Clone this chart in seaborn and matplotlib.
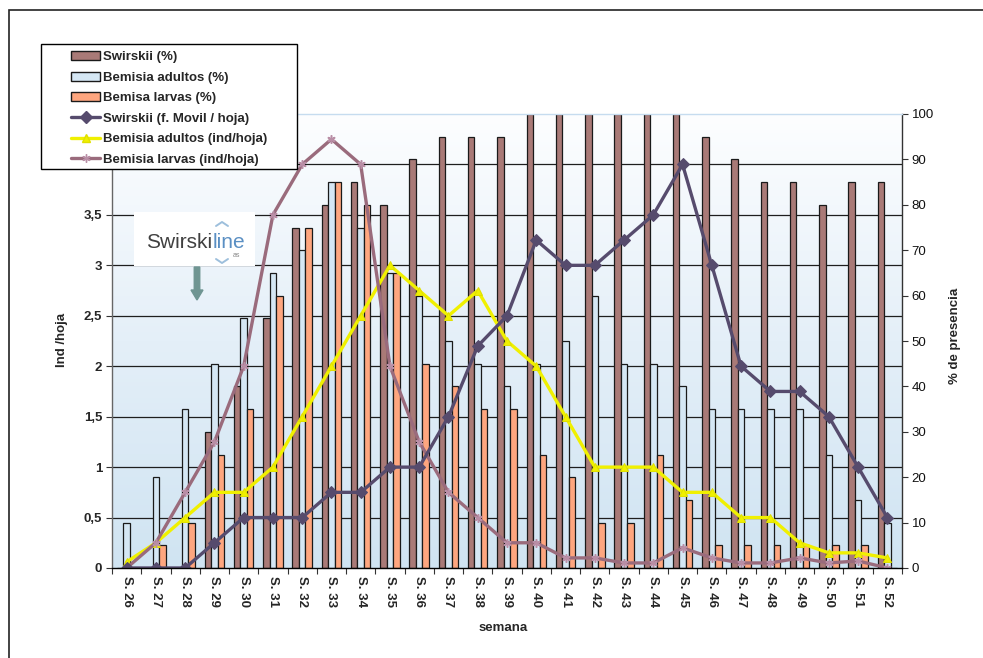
import numpy as np
import pandas as pd
import matplotlib
matplotlib.use("Agg")
import matplotlib.pyplot as plt
from matplotlib.patches import Rectangle, Patch, FancyArrow
from matplotlib.lines import Line2D
from matplotlib.text import Annotation
from matplotlib.colors import LinearSegmentedColormap
import seaborn as sns

# ---- data -----------------------------------------------------------------
semanas = ["S. 26", "S. 27", "S. 28", "S. 29", "S. 30", "S. 31", "S. 32",
           "S. 33", "S. 34", "S. 35", "S. 36", "S. 37", "S. 38", "S. 39",
           "S. 40", "S. 41", "S. 42", "S. 43", "S. 44", "S. 45", "S. 46",
           "S. 47", "S. 48", "S. 49", "S. 50", "S. 51", "S. 52"]

# % de presencia (bars, right axis)
swirskii_pct = [0, 0, 0, 30, 40, 55, 75, 80, 85, 80, 90, 95, 95, 95, 100, 100,
                100, 100, 100, 100, 95, 90, 85, 85, 80, 85, 85]
adultos_pct = [10, 20, 35, 45, 55, 65, 70, 85, 75, 65, 60, 50, 45, 40, 45, 50,
               60, 45, 45, 40, 35, 35, 35, 35, 25, 15, 10]
larvas_pct = [0, 5, 10, 25, 35, 60, 75, 85, 80, 65, 45, 40, 35, 35, 25, 20,
              10, 10, 25, 15, 5, 5, 5, 5, 5, 5, 0]

# individuos por hoja (lines, left axis)
swirskii_ind = [0, 0, 0, 0.25, 0.5, 0.5, 0.5, 0.75, 0.75, 1, 1, 1.5, 2.2, 2.5,
                3.25, 3, 3, 3.25, 3.5, 4, 3, 2, 1.75, 1.75, 1.5, 1, 0.5]
adultos_ind = [0.06, 0.25, 0.5, 0.75, 0.75, 1, 1.5, 2, 2.5, 3, 2.75, 2.5, 2.75,
               2.25, 2, 1.5, 1, 1, 1, 0.75, 0.75, 0.5, 0.5, 0.25, 0.15, 0.15, 0.1]
larvas_ind = [0, 0.25, 0.75, 1.25, 2, 3.5, 4, 4.25, 4, 2, 1.25, 0.75, 0.5, 0.25,
              0.25, 0.1, 0.1, 0.05, 0.05, 0.2, 0.1, 0.05, 0.05, 0.1, 0.05, 0.07, 0]

bar_series = ["Swirskii (%)", "Bemisia adultos (%)", "Bemisa larvas (%)"]
line_series = ["Swirskii (f. Movil / hoja)", "Bemisia adultos (ind/hoja)",
               "Bemisia larvas (ind/hoja)"]

ind_ticks = [0, 0.5, 1, 1.5, 2, 2.5, 3, 3.5, 4, 4.5]
ind_tick_labels = ["0", "0,5", "1", "1,5", "2", "2,5", "3", "3,5", "4", "4,5"]
pct_ticks = [0, 10, 20, 30, 40, 50, 60, 70, 80, 90, 100]

# ---- style ----------------------------------------------------------------
bar_colors = ["#a97a77", "#d5e7f4", "#fea67f"]
sw_line, ad_line, la_line = "#564b6d", "#f0f000", "#9a6b7c"
FS = 9.5

sns.set_style("ticks")
plt.rcParams["font.family"] = ["Liberation Sans", "DejaVu Sans"]

W, H = 983, 658
fig = plt.figure(figsize=(W / 100, H / 100), dpi=100)
fig.patch.set_facecolor("white")


def px(x, y):
    """pixel position (from top-left) -> inches for dpi_scale_trans"""
    return x / 100, (H - y) / 100


ax = fig.add_axes([112 / W, 1 - 568 / H, 790 / W, 454 / H])

# plot-area gradient: light blue at the bottom fading to white at the top
grad = np.linspace(0, 1, 256).reshape(-1, 1)
bg_cmap = LinearSegmentedColormap.from_list("bg", ["#d0e4f2", "#e4eff8", "#fdfeff"])
ax.imshow(grad, extent=[0, 1, 0, 1], transform=ax.transAxes, origin="lower",
          aspect="auto", cmap=bg_cmap, zorder=0, interpolation="bilinear")

# bars
n = len(semanas)
df_bars = pd.DataFrame({
    "semana": semanas * 3,
    "serie": [s for s in bar_series for _ in range(n)],
    "pct": swirskii_pct + adultos_pct + larvas_pct,
})
sns.barplot(data=df_bars, x="semana", y="pct", hue="serie", hue_order=bar_series,
            palette=bar_colors, width=0.667, saturation=1, edgecolor="#1a1a1a",
            linewidth=0.9, ax=ax, legend=False, zorder=3)

ind_max = ind_ticks[-1]
for v in ind_ticks[1:-1]:
    ax.axhline(v / ind_max * 100, color="#1e1e1e", lw=0.9, zorder=1)

# lines on the Ind/hoja axis
ax2 = ax.twinx()
ax2.patch.set_visible(False)
pos = np.arange(n)
sns.lineplot(x=pos, y=swirskii_ind, ax=ax2, color=sw_line, lw=2.4, marker="D",
             markersize=6.5, markeredgecolor=sw_line, markerfacecolor=sw_line, zorder=6)
sns.lineplot(x=pos, y=adultos_ind, ax=ax2, color=ad_line, lw=2.4, marker="^",
             markersize=6, markeredgecolor="#e0e000", markerfacecolor=ad_line, zorder=5)
sns.lineplot(x=pos, y=larvas_ind, ax=ax2, color=la_line, lw=2.4, marker=(6, 2, 0),
             markersize=6, markeredgecolor="#b98ea6", markeredgewidth=1.1, zorder=5)

# axes limits / ticks
ax.set_xlim(-0.5, n - 0.5)
ax.set_ylim(0, 100)
ax2.set_ylim(0, ind_max)

ax.yaxis.tick_right()
ax.set_yticks(pct_ticks)
ax.tick_params(axis="y", which="major", direction="out", length=4, width=0.8,
               labelsize=FS, pad=3, color="#333333", labelcolor="#111111")

ax2.yaxis.tick_left()
ax2.set_yticks(ind_ticks, ind_tick_labels)
ax2.tick_params(axis="y", direction="out", length=4, width=0.8, labelsize=FS,
                pad=3, color="#333333")
for t in ax2.get_yticklabels():
    t.set_fontweight("bold")

ax.set_xticks(range(n), semanas, rotation=-90, fontweight="bold", fontsize=FS)
ax.tick_params(axis="x", which="major", length=0, pad=6)
ax.set_xticks(np.arange(-0.5, n), minor=True)
ax.tick_params(axis="x", which="minor", length=4, width=0.8, direction="out",
               color="#333333")

ax.set_xlabel("")
ax.set_ylabel("")
ax2.set_ylabel("")

for s in ax.spines.values():
    s.set_visible(False)
ax2.spines["left"].set_color("#666666")
ax2.spines["right"].set_color("#333333")
ax2.spines["bottom"].set_color("#000000")
ax2.spines["top"].set_color("#c6dcef")
for s in ax2.spines.values():
    s.set_linewidth(1.0)
    s.set_zorder(7)

# axis titles
fig.text(62 / W, 1 - 340 / H, "Ind /hoja", rotation=90, ha="center", va="center",
         fontsize=FS, fontweight="bold")
fig.text(955 / W, 1 - 336 / H, "% de presencia", rotation=90, ha="center",
         va="center", fontsize=FS, fontweight="bold")
fig.text(503 / W, 1 - 628 / H, "semana", ha="center", va="center",
         fontsize=FS, fontweight="bold")

# outer chart frame
fig.add_artist(Rectangle((9 / W, -0.1), 1.2, (1 - 10 / H) + 0.1,
                         transform=fig.transFigure, fill=False,
                         edgecolor="#222222", lw=1.2, zorder=10))

# logo block
fig.add_artist(Rectangle(px(134, 266), 1.21, 0.54, transform=fig.dpi_scale_trans,
                         facecolor="white", edgecolor="none", zorder=8))
t1 = fig.text(*px(146, 248), "Swirski", transform=fig.dpi_scale_trans,
              fontsize=15, color="#404040", ha="left", va="baseline", zorder=9)
t2 = fig.add_artist(Annotation("line", xy=(1, 0), xycoords=t1, ha="left",
                               va="bottom", fontsize=15, color="#5a8fc3",
                               annotation_clip=False, zorder=9))
fig.add_artist(Annotation("as", xy=(1, 0), xycoords=t2, xytext=(-8, -7),
                          textcoords="offset pixels", ha="center", va="bottom",
                          fontsize=5, color="#8a8a8a", annotation_clip=False,
                          zorder=9))
# small chevrons above / below the wordmark
for (yy, sgn) in ((226, -1), (259, 1)):
    xs = np.array([216, 222, 228]) / 100
    ys = (H - np.array([yy, yy + sgn * 4, yy])) / 100
    fig.add_artist(Line2D(xs, ys, transform=fig.dpi_scale_trans, color="#9dbfdc",
                          lw=1.4, zorder=9))
fig.add_artist(FancyArrow(*px(197, 267), 0, -0.33, width=0.055, head_width=0.12,
                          head_length=0.1, length_includes_head=True,
                          transform=fig.dpi_scale_trans, color="#6f9592",
                          zorder=9))

# legend box + entries
fig.add_artist(Rectangle((41 / W, 1 - 169 / H), 256 / W, 125 / H,
                         transform=fig.transFigure, facecolor="white",
                         edgecolor="#000000", lw=1.0, zorder=11))
handles = [Patch(facecolor=c, edgecolor="#1a1a1a", lw=1.0) for c in bar_colors]
handles += [
    Line2D([], [], color=sw_line, lw=2.4, marker="D", markersize=6.5),
    Line2D([], [], color=ad_line, lw=2.4, marker="^", markersize=6,
           markeredgecolor="#e0e000"),
    Line2D([], [], color=la_line, lw=2.4, marker=(6, 2, 0), markersize=6,
           markeredgecolor="#b98ea6"),
]
leg = fig.legend(handles, bar_series + line_series, loc="upper left",
                 bbox_to_anchor=(71 / W, 1 - 51 / H), frameon=False,
                 borderpad=0, borderaxespad=0, handlelength=2.2,
                 handletextpad=0.25, labelspacing=0.63,
                 prop={"size": FS, "weight": "bold"})
leg.set_zorder(12)

fig.savefig("out.png", dpi=100)
